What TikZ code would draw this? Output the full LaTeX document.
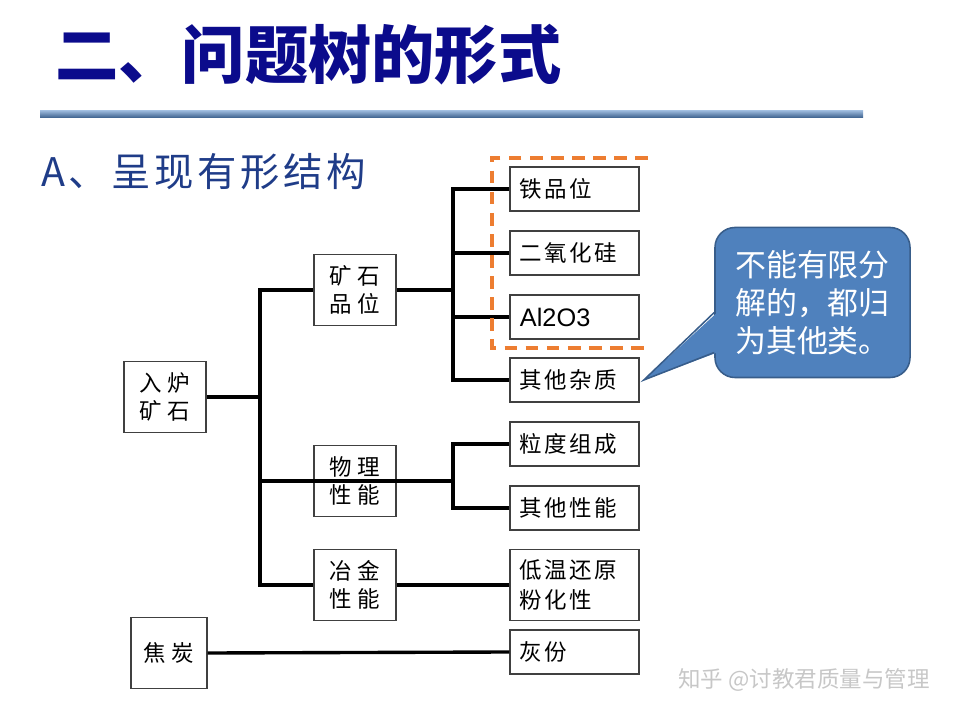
\documentclass[tikz,border=0pt]{standalone}
\usepackage{fontspec}
\setmainfont{Noto Sans CJK SC}
\newfontfamily\boxfont[LetterSpace=10]{Noto Sans CJK SC}
\newfontfamily\widefont[LetterSpace=25]{Noto Sans CJK SC}
\newfontfamily\subfont[LetterSpace=9]{Noto Sans CJK SC}
\newfontfamily\latinfont{Liberation Sans}
\usetikzlibrary{calc}
\definecolor{ctitle}{HTML}{0B0B8C}
\definecolor{csub}{HTML}{1F3C88}
\definecolor{corange}{HTML}{ED7D31}
\definecolor{cnote}{HTML}{4F81BD}
\definecolor{cnoteline}{HTML}{385D8A}
\definecolor{cframe}{HTML}{404040}
\tikzset{
  every picture/.style={line width=0.85pt},
  box/.style={draw=cframe, minimum width=2.05cm, minimum height=1.775cm, inner sep=0pt, align=left, font=\widefont\fontsize{16}{20}\selectfont},
  leaf/.style={draw=cframe, minimum width=3.225cm, minimum height=1.1cm, inner xsep=0.25cm, inner ysep=0pt, text width=2.725cm, align=left, font=\boxfont\fontsize{16}{21}\selectfont},
  link/.style={line width=2.4pt, draw=black},
  group/.style={draw=corange, line width=2.2pt, dash pattern=on 9pt off 6pt},
  note/.style={fill=cnote, draw=cnoteline, line width=1.1pt, rounded corners=0.5cm, minimum width=4.875cm, minimum height=3.75cm, text=white, align=left, font=\fontsize{22}{27}\selectfont},
}

\begin{document}
\begin{tikzpicture}[x=0.025cm, y=-0.025cm]
  \useasboundingbox (0,0) rectangle (960,720);
  % heading
  \node[anchor=west, text=ctitle, font=\bfseries\fontsize{45}{50}\selectfont] (title) at (50,55) {二、问题树的形式};
  \shade[top color=cnote!60, bottom color=cnoteline] (40,111) rectangle (863,118);
  \node[anchor=west, text=csub, font=\subfont\fontsize{28}{32}\selectfont] (sub) at (36,172) {A、呈现有形结构};
  % left column
  \node[box] (ore) at (165,397) {入炉\\矿石};
  \node[box] (grade) at (355,290) {矿石\\品位};
  \node[box] (phys) at (355,481) {物理\\性能};
  \node[box] (metal) at (355,585) {冶金\\性能};
  \node[box, minimum width=1.9cm] (coke) at (169,653) {焦炭};
  % right column
  \foreach \n/\y/\t in {fe/189/铁品位, si/253/二氧化硅, al/317/{\latinfont\fontsize{18}{21}\selectfont Al2O3}, oth/380/其他杂质, size/444/粒度组成, prop/508/其他性能, ash/652/灰份}
    \node[leaf] (\n) at (574.5,\y) {\t};
  \node[leaf, minimum height=1.775cm] (redu) at (574.5,585) {低温还原\\粉化性};
  % connectors
  \coordinate (trunk) at (260,0);
  \coordinate (hub) at (453,0);
  \draw[link, line width=3pt] (grade.west) -| (trunk |- metal.west) -- (metal.west);
  \foreach \n in {ore, phys}
    \draw[link] (\n.east -| trunk) -- (\n.east);
  \draw[link] (phys.west) -- (phys.west -| trunk);
  \draw[link] (fe.west) -| (hub |- oth.west) -- (oth.west);
  \foreach \n in {si, al}
    \draw[link] (\n.west) -- (\n.west -| hub);
  \draw[link] (grade.east) -- (grade.east -| hub);
  \draw[link] (size.west) -| (hub |- prop.west) -- (prop.west);
  \draw[link] (phys.east) -- (phys.east -| hub);
  \draw[link] (metal.east) -- (redu.west);
  \draw[link] (coke.east) -- (ash.west);
  % dashed group
  \draw[group] (648,158) -- (492,158) -- (492,348) -- (648,348);
  % callout
  \node[note] (note) at (812.5,302.5) {不能有限分\\解的，都归\\为其他类。};
  \fill[cnote] ($(note.west)+(3,10)$) -- ([xshift=3pt]oth.east) -- ($(note.west)+(3,50)$) -- cycle;
  \draw[cnoteline, line width=1.1pt] ($(note.west)+(0,10)$) -- ([xshift=3pt]oth.east) -- ($(note.west)+(0,50)$);
  \node[anchor=east, text=black!22, font=\fontsize{16}{20}\selectfont] (mark) at (935,680) {知乎 @讨教君质量与管理};
\end{tikzpicture}
\end{document}
